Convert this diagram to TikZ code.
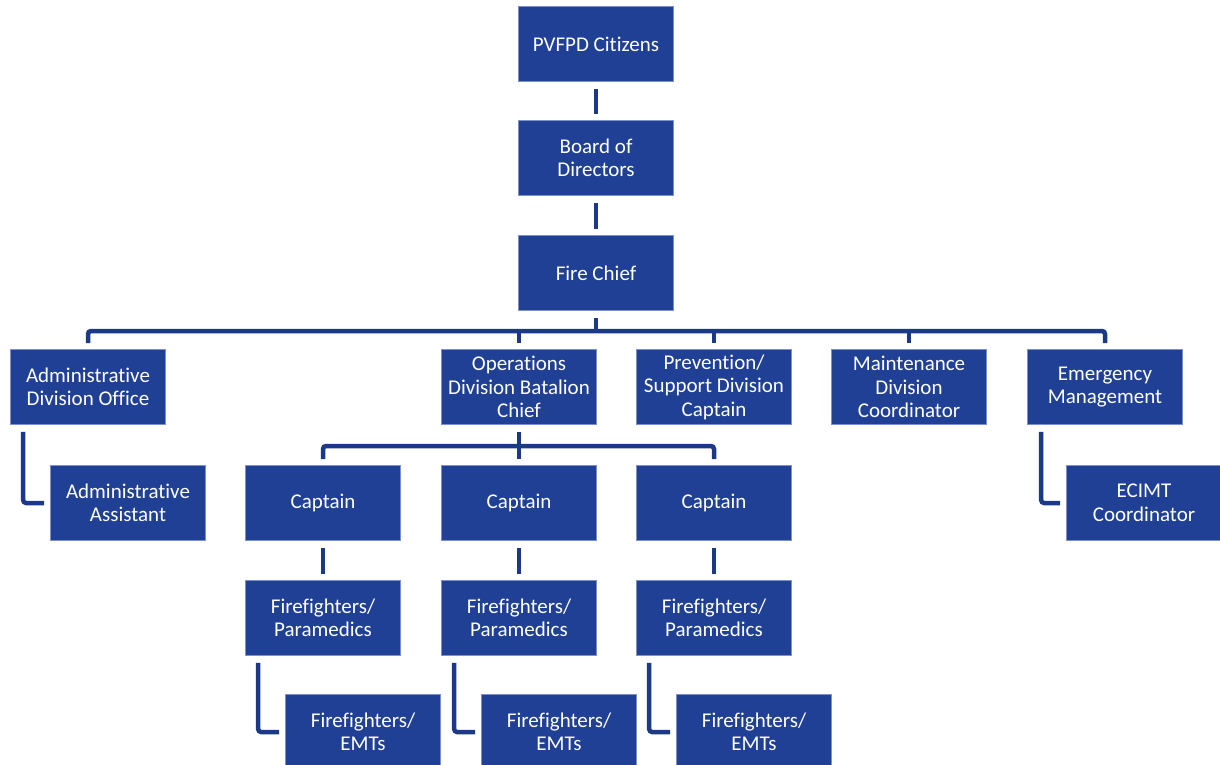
\documentclass[tikz,border=0pt]{standalone}
\usepackage{fontspec}
\setmainfont{Carlito}[Ligatures=NoCommon]
\usetikzlibrary{positioning}

\definecolor{boxblue}{RGB}{31,64,148}
\definecolor{boxedge}{RGB}{125,145,205}
\definecolor{linkblue}{RGB}{27,57,134}

\begin{document}
\begin{tikzpicture}[x=1pt,y=-1pt,
	post/.style={rectangle, fill=boxblue, draw=boxedge, line width=0.7pt,
		minimum width=155pt, minimum height=75pt, inner sep=0pt,
		align=center, text=white, font=\fontsize{21}{23.5}\selectfont},
	link/.style={draw=linkblue, line width=4.5pt, rounded corners=3pt}]

	\useasboundingbox (0,0) rectangle (1220,765);

	% Top chain
	\node[post] (citizens) at (596,44) {PVFPD Citizens};
	\node[post] (board) at (596,158) {Board of\\Directors};
	\node[post] (chief) at (596,273) {Fire Chief};

	\draw[link] ([yshift=-7pt]citizens.south) -- ([yshift=6pt]board.north);
	\draw[link] ([yshift=-7pt]board.south) -- ([yshift=6pt]chief.north);

	% Divisions
	\node[post] (admin) at (88,387) {Administrative\\Division Office};
	\node[post] (ops) at (519,387) {Operations\\Division Batalion\\Chief};
	\node[post] (prev) at (714,387) {Prevention/\\Support Division\\Captain};
	\node[post] (maint) at (909,387) {Maintenance\\Division\\Coordinator};
	\node[post] (emerg) at (1105,387) {Emergency\\Management};

	% Division bus
	\coordinate (bus) at (596,331);
	\draw[link] ([yshift=-7pt]chief.south) -- (bus);
	\draw[link] ([yshift=6pt]admin.north) |- (bus) -| ([yshift=6pt]emerg.north);
	\foreach \n in {ops,prev,maint}
		\draw[link] ([yshift=6pt]\n.north) -- (\n.north |- bus);

	% Staff under admin and emergency
	\node[post] (assist) at (128,503) {Administrative\\Assistant};
	\node[post] (ecimt) at (1144,503) {ECIMT\\Coordinator};

	\draw[link] ([xshift=13pt,yshift=-7pt]admin.south west) |- ([xshift=-6pt]assist.west);
	\draw[link] ([xshift=14pt,yshift=-7pt]emerg.south west) |- ([xshift=-6pt]ecimt.west);

	% Captains
	\node[post] (capA) at (323,503) {Captain};
	\node[post] (capB) at (519,503) {Captain};
	\node[post] (capC) at (714,503) {Captain};

	\coordinate (opsbus) at (519,446);
	\draw[link] ([yshift=-7pt]ops.south) -- (opsbus);
	\draw[link] ([yshift=6pt]capA.north) |- (opsbus) -| ([yshift=6pt]capC.north);
	\draw[link] ([yshift=6pt]capB.north) -- (opsbus);

	% Crews
	\foreach \c/\x in {A/323,B/519,C/714} {
		\node[post] (ffp\c) at (\x,618) {Firefighters/\\Paramedics};
		\node[post] (emt\c) at (\x+40,732) {Firefighters/\\EMTs};
		\draw[link] ([yshift=-7pt]cap\c.south) -- ([yshift=6pt]ffp\c.north);
		\draw[link] ([xshift=13pt,yshift=-7pt]ffp\c.south west) |- ([xshift=-6pt]emt\c.west);
	}

\end{tikzpicture}
\end{document}
